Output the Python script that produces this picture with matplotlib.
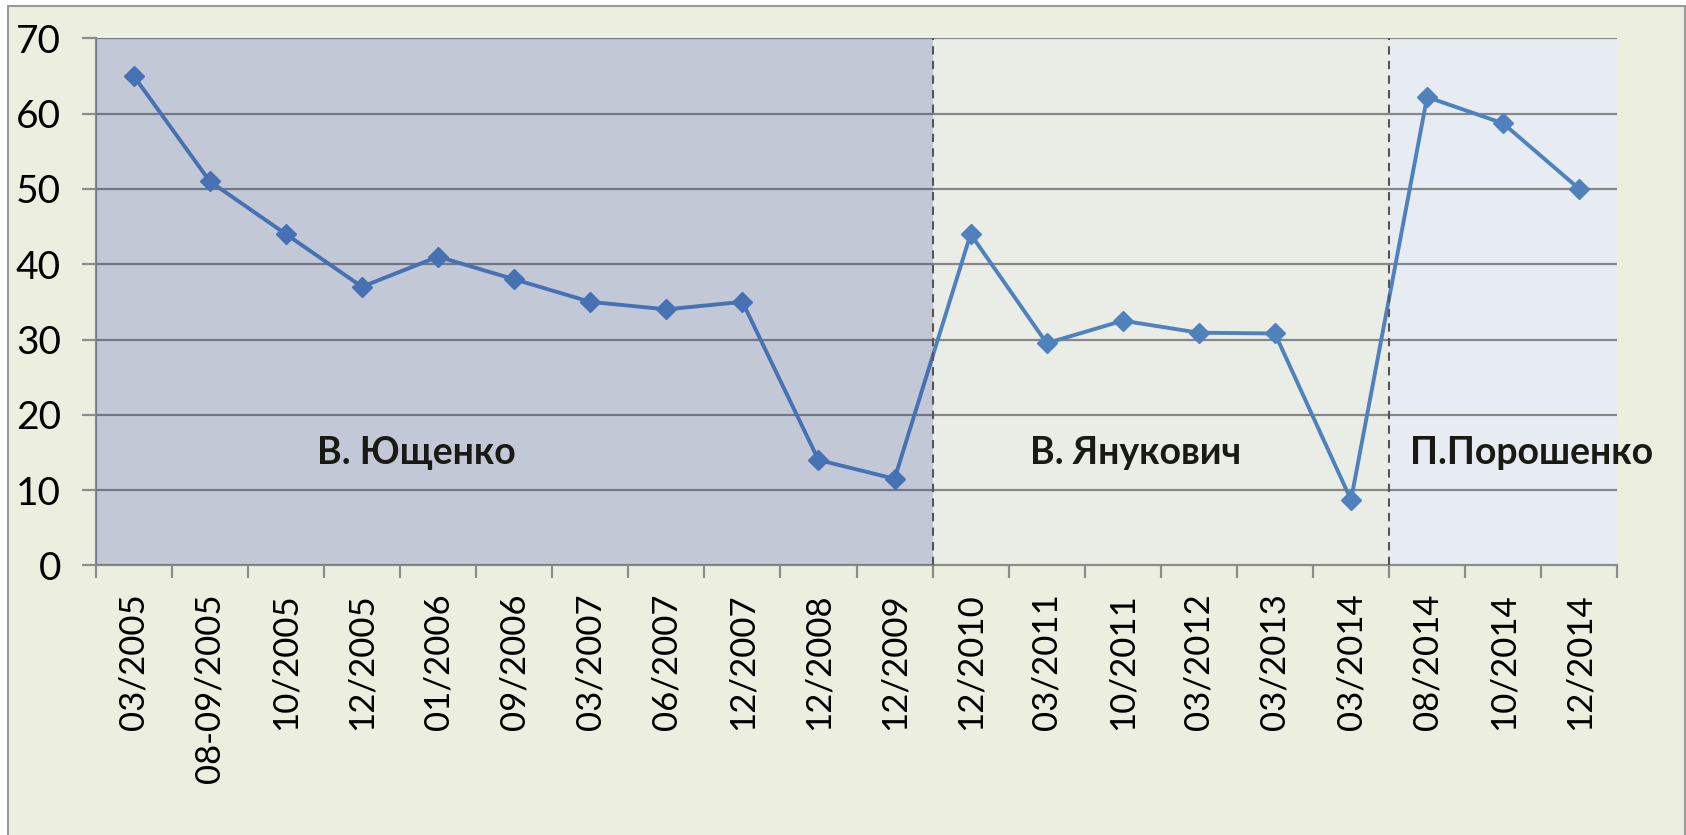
import matplotlib
matplotlib.use("Agg")
import matplotlib.pyplot as plt
from matplotlib.patches import Rectangle

categories = ["03/2005", "08-09/2005", "10/2005", "12/2005", "01/2006", "09/2006",
              "03/2007", "06/2007", "12/2007", "12/2008", "12/2009", "12/2010",
              "03/2011", "10/2011", "03/2012", "03/2013", "03/2014", "08/2014",
              "10/2014", "12/2014"]
values = [65, 51, 44, 37, 41, 38, 35, 34, 35, 14, 11.5, 44, 29.5, 32.5, 30.9, 30.8,
          8.7, 62.2, 58.7, 50]
periods = ["В. Ющенко", "В. Янукович", "П.Порошенко"]
period_start = [0, 11, 17]   # index of first category of each presidency
yticks = [0, 10, 20, 30, 40, 50, 60, 70]

plt.rcParams['font.family'] = ['Lato', 'DejaVu Sans']

W, H = 1686, 835
fig = plt.figure(figsize=(W / 100, H / 100), dpi=100)
fig.patch.set_facecolor("white")
fig.add_artist(Rectangle((8 / W, -0.1), (1685 - 8) / W, 1.1 - 6 / H,
                         transform=fig.transFigure, facecolor="#ecefdf",
                         edgecolor="#9a9a9a", linewidth=1.5, zorder=-10))

ax = fig.add_axes([95.7 / W, 1 - 565.4 / H, (1617.3 - 95.7) / W, (565.4 - 38.3) / H])
ax.set_facecolor("#eaece6")

n = len(categories)
x = list(range(n))
ax.set_xlim(-0.5, n - 0.5)
ax.set_ylim(0, 70)

# gridlines
for yv in yticks[1:]:
    ax.axhline(yv, color="#878787", linewidth=1.6, zorder=1)

# Poroshenko background
ax.axvspan(period_start[2] - 0.5, n - 0.5, color="#e7ecf3", zorder=0.5, linewidth=0)

ax.plot(x, values, color="#4f81bd", linewidth=2.8, marker="D", markersize=10,
        markeredgecolor="#4f81bd", zorder=3, clip_on=False)

# Yushchenko overlay (darkens everything beneath)
ax.axvspan(-0.5, period_start[1] - 0.5, color="#223891", alpha=0.2, zorder=4, linewidth=0)

for s in period_start[1:]:
    ax.axvline(s - 0.5, color="#555555", linewidth=1.5, linestyle=(0, (4, 3)), zorder=5)

label_x = [3.71, 13.17, 18.37]
for xp, name in zip(label_x, periods):
    ax.text(xp, 14.9, name, ha="center", va="center", fontsize=27, fontweight="bold",
            color="#1a1a14", zorder=6, clip_on=False)

for side in ["top", "right"]:
    ax.spines[side].set_visible(False)
for side in ["left", "bottom"]:
    ax.spines[side].set_color("#8c8c8c")
    ax.spines[side].set_linewidth(1.6)

ax.set_yticks(yticks)
ax.set_yticklabels([str(v) for v in yticks], fontsize=28)
ax.tick_params(axis="y", length=10, width=1.6, color="#8c8c8c", pad=15)

ax.set_xticks(x)
ax.set_xticklabels(categories, rotation=90, fontsize=25, va="top", ha="center")
ax.tick_params(axis="x", which="major", length=0, pad=20)
ax.set_xticks([i - 0.5 for i in range(n + 1)], minor=True)
ax.tick_params(axis="x", which="minor", length=9, width=1.6, color="#8c8c8c")

fig.savefig("out.png", dpi=100)
